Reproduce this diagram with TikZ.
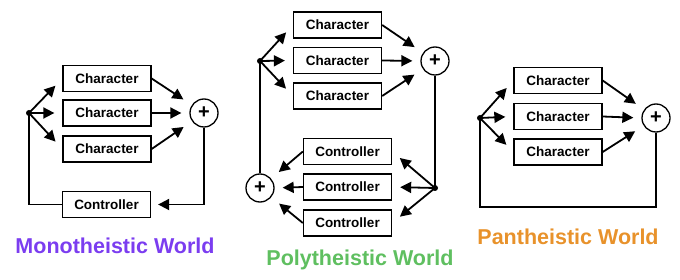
\documentclass[tikz,border=0pt]{standalone}
\usepackage{fontspec}
\setmainfont{Liberation Sans}
\usepackage{xcolor}
\usetikzlibrary{arrows.meta,positioning}

\definecolor{monocol}{HTML}{7B3DF0}
\definecolor{polycol}{HTML}{5FBF60}
\definecolor{pancol}{HTML}{E8922B}

\begin{document}
\begin{tikzpicture}[x=1pt, y=-1pt, line width=1.8pt]
    % Stili
    \tikzstyle{block}=[rectangle, draw=black, line width=1.3pt, minimum width=88pt, minimum height=26pt, inner sep=0pt, font=\bfseries\fontsize{13.5}{15}\selectfont]
    \tikzstyle{sum}=[circle, draw=black, line width=1.3pt, minimum size=28pt, inner sep=0pt, font=\bfseries\fontsize{20}{20}\selectfont]
    \tikzstyle{dot}=[circle, fill=black, minimum size=6pt, inner sep=0pt]
    \tikzstyle{arrow}=[-{Triangle[length=11pt, width=11pt]}, line width=1.8pt]
    \tikzstyle{title}=[font=\bfseries\fontsize{21.5}{24}\selectfont]

    \useasboundingbox (0,0) rectangle (680,280);

    % Mono
    \node (monoA) [block] at (107,78.5) {Character};
    \node (monoB) [block] at (107,113) {Character};
    \node (monoC) [block] at (107,149) {Character};
    \node (monoCtrl) [block] at (106.5,204.5) {Controller};
    \node (monoSplit) [dot] at (29,113) {};
    \node (monoSum) [sum] at (204,113) {+};
    \node (monoTitle) [title, text=monocol] at (115,246) {Monotheistic World};

    \draw [arrow, shorten >=10pt] (monoSplit.center) -- (monoA.west);
    \draw [arrow, shorten >=8pt] (monoSplit.center) -- (monoB.west);
    \draw [arrow, shorten >=10pt] (monoSplit.center) -- (monoC.west);
    \draw [arrow, shorten >=10pt] (monoA.east) -- (monoSum);
    \draw [arrow, shorten >=8pt] (monoB.east) -- (monoSum.west);
    \draw [arrow, shorten >=10pt] (monoC.east) -- (monoSum);
    \draw [arrow, shorten >=7pt] (monoSum.south) |- (monoCtrl.east);
    \draw (monoCtrl.west) -| (monoSplit.center);

    % Poly
    \node (polyA) [block] at (337.5,25) {Character};
    \node (polyB) [block] at (337.5,60.5) {Character};
    \node (polyC) [block] at (337.5,96) {Character};
    \node (polySplit) [dot] at (260,61) {};
    \node (polySum) [sum] at (435,61) {+};
    \node (polyCtrlA) [block] at (347.5,151.5) {Controller};
    \node (polyCtrlB) [block] at (347.5,187) {Controller};
    \node (polyCtrlC) [block] at (347.5,223) {Controller};
    \node (polyFork) [dot] at (435,188) {};
    \node (polyJoin) [sum] at (260,188) {+};
    \node (polyTitle) [title, text=polycol] at (360,260) {Polytheistic World};

    \draw [arrow, shorten >=10pt] (polySplit.center) -- (polyA.west);
    \draw [arrow, shorten >=8pt] (polySplit.center) -- (polyB.west);
    \draw [arrow, shorten >=10pt] (polySplit.center) -- (polyC.west);
    \draw [arrow, shorten >=10pt] (polyA.east) -- (polySum);
    \draw [arrow, shorten >=8pt] (polyB.east) -- (polySum.west);
    \draw [arrow, shorten >=10pt] (polyC.east) -- (polySum);
    \draw (polySum.south) -- (polyFork.center);
    \draw [arrow, shorten >=10pt] (polyFork.center) -- (polyCtrlA.east);
    \draw [arrow, shorten >=8pt] (polyFork.center) -- (polyCtrlB.east);
    \draw [arrow, shorten >=10pt] (polyFork.center) -- (polyCtrlC.east);
    \draw [arrow, shorten >=10pt] (polyCtrlA.west) -- (polyJoin);
    \draw [arrow, shorten >=8pt] (polyCtrlB.west) -- (polyJoin.east);
    \draw [arrow, shorten >=10pt] (polyCtrlC.west) -- (polyJoin);
    \draw (polyJoin.north) -- (polySplit.center);

    % Pan
    \node (panA) [block] at (558,80.5) {Character};
    \node (panB) [block] at (558,116.5) {Character};
    \node (panC) [block] at (558,152) {Character};
    \node (panSplit) [dot] at (480,118) {};
    \node (panSum) [sum] at (656,118) {+};
    \coordinate (panLoop) at (480,207);
    \node (panTitle) [title, text=pancol] at (568,237) {Pantheistic World};

    \draw [arrow, shorten >=10pt] (panSplit.center) -- (panA.west);
    \draw [arrow, shorten >=8pt] (panSplit.center) -- (panB.west);
    \draw [arrow, shorten >=10pt] (panSplit.center) -- (panC.west);
    \draw [arrow, shorten >=10pt] (panA.east) -- (panSum);
    \draw [arrow, shorten >=8pt] (panB.east) -- (panSum.west);
    \draw [arrow, shorten >=10pt] (panC.east) -- (panSum);
    \draw (panSum.south) |- (panLoop) -- (panSplit.center);

\end{tikzpicture}
\end{document}
